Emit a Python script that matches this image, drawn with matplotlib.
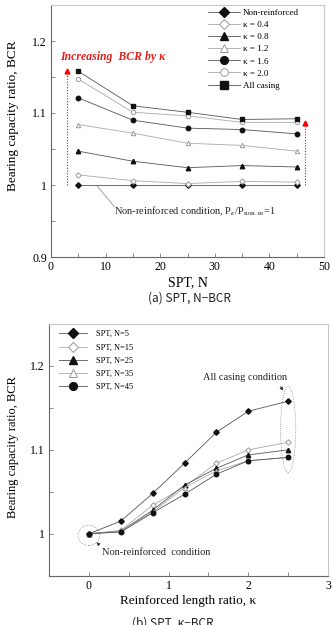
import matplotlib
matplotlib.use("Agg")
import matplotlib.pyplot as plt
import matplotlib.ticker as mticker
from matplotlib.patches import Ellipse
import numpy as np

plt.rcParams.update({
    "font.family": ["Liberation Serif", "DejaVu Serif"],
    "mathtext.fontset": "stix",
    "xtick.direction": "in",
    "ytick.direction": "in",
    "axes.unicode_minus": False,
})

# ── data: panel (a) SPT N vs BCR ────────────────────────────────────────────
SPT_N = [5, 15, 25, 35, 45]
LABELS_A = ["Non-reinforced", "κ = 0.4", "κ = 0.8", "κ = 1.2", "κ = 1.6",
            "κ = 2.0", "All casing"]
BCR_NON = [1.000, 1.000, 1.000, 1.000, 1.000]
BCR_K04 = [1.014, 1.006, 1.002, 1.005, 1.004]
BCR_K08 = [1.047, 1.033, 1.024, 1.027, 1.025]
BCR_K12 = [1.084, 1.072, 1.058, 1.055, 1.047]
BCR_K16 = [1.121, 1.090, 1.079, 1.077, 1.071]
BCR_K20 = [1.147, 1.101, 1.096, 1.087, 1.087]
BCR_ALL = [1.158, 1.110, 1.101, 1.091, 1.092]

# ── data: panel (b) kappa vs BCR ────────────────────────────────────────────
KAPPA = [0, 0.4, 0.8, 1.2, 1.6, 2.0, 2.5]
LABELS_B = ["SPT, N=5", "SPT, N=15", "SPT, N=25", "SPT, N=35", "SPT, N=45"]
BCR_N05 = [1.000, 1.015, 1.048, 1.084, 1.121, 1.146, 1.158]
BCR_N15 = [1.000, 1.004, 1.034, 1.056, 1.084, 1.100, 1.109]
BCR_N25 = [1.000, 1.003, 1.028, 1.058, 1.078, 1.094, 1.100]
BCR_N35 = [1.000, 1.003, 1.026, 1.055, 1.075, 1.087, 1.091]
BCR_N45 = [1.000, 1.002, 1.025, 1.047, 1.071, 1.087, 1.091]

DARK = "#111111"
GREY = "#9a9a9a"
LDARK = "#555555"
LGREY = "#aaaaaa"

# (marker, filled?)
STY_A = [("D", True), ("D", False), ("^", True), ("^", False),
         ("o", True), ("o", False), ("s", True)]
STY_B = [("D", True), ("D", False), ("^", True), ("^", False), ("o", True)]
MS = {"D": 2.8, "^": 3.2, "o": 3.2, "s": 3.4}


def _style(ax):
    for k in ("left", "bottom"):
        ax.spines[k].set_color("#666666")
        ax.spines[k].set_linewidth(0.8)
    for k in ("top", "right"):
        ax.spines[k].set_color("#c8c8c8")
        ax.spines[k].set_linewidth(0.8)
    ax.tick_params(which="both", direction="in", length=3, width=0.6,
                   color="#777777", labelsize=8.5, pad=3)


def _series(ax, x, y, mk, filled, label):
    ms = MS[mk]
    if filled:
        ax.plot(x, y, color=LDARK, lw=0.6, marker=mk, ms=ms, mfc=DARK,
                mec=DARK, label=label, zorder=3)
    else:
        ax.plot(x, y, color=LGREY, lw=0.6, marker=mk, ms=ms, mfc="white",
                mec=GREY, mew=0.7, label=label, zorder=3)


fig = plt.figure(figsize=(3.32, 6.25), dpi=100)

# ── panel (a) ──────────────────────────────────────────────────────────────
ax = fig.add_axes([0.1536, 0.5888, 0.8224, 0.4032])
series_a = [BCR_NON, BCR_K04, BCR_K08, BCR_K12, BCR_K16, BCR_K20, BCR_ALL]
for ys, (mk, f), lab in zip(series_a, STY_A, LABELS_A):
    _series(ax, SPT_N, ys, mk, f, lab)

ax.set_xlim(0, 50)
ax.set_ylim(0.9, 1.25)
ax.xaxis.set_major_locator(mticker.MultipleLocator(10))
ax.xaxis.set_minor_locator(mticker.MultipleLocator(5))
ax.set_yticks([0.9, 1.0, 1.1, 1.2])
ax.set_yticklabels(["0.9", "1", "1.1", "1.2"])
ax.yaxis.set_minor_locator(mticker.MultipleLocator(0.05))
_style(ax)
ax.set_xlabel("SPT, N", fontsize=10, labelpad=2)
ax.set_ylabel("Bearing capacity ratio, BCR", fontsize=9.5)
ax.yaxis.set_label_coords(-0.118, 0.56)

# red dotted arrows
ax.plot([2.9, 2.9], [1.0, 1.156], ls=(0, (1, 1.5)), color="red", lw=0.8)
ax.plot([2.9], [1.158], marker="^", color="red", ms=3.5)
ax.plot([46.6, 46.6], [1.0, 1.084], ls=(0, (1, 1.5)), color="red", lw=0.8)
ax.plot([46.6], [1.086], marker="^", color="red", ms=3.5)
ax.text(1.7, 1.178, "Increasing  BCR by κ", color="#e0201c", fontsize=8.5,
        fontweight="bold", fontstyle="italic", va="center", ha="left")

ax.plot([8.4, 11.6], [0.999, 0.970], color="#999999", lw=0.6)
ax.text(11.6, 0.963,
        r"Non-reinforced condition, P$_{\kappa}$/P$_{\mathrm{non.re}}$=1",
        fontsize=7.5, va="center", ha="left", color="#222222")

ax.legend(loc="upper left", bbox_to_anchor=(0.575, 0.985),
          frameon=False, fontsize=6.5, handlelength=3.6,
          handletextpad=0.3, labelspacing=0.42, borderpad=0,
          borderaxespad=0, markerscale=1.75)

fig.text(0.57, 0.523, "(a) SPT, N−BCR", ha="center", va="center",
         fontsize=8.5, family=["Noto Sans CJK KR", "DejaVu Sans"],
         color="#222222")

# ── panel (b) ──────────────────────────────────────────────────────────────
bx = fig.add_axes([0.1476, 0.0789, 0.8404, 0.4027])
series_b = [BCR_N05, BCR_N15, BCR_N25, BCR_N35, BCR_N45]
for ys, (mk, f), lab in zip(series_b, STY_B, LABELS_B):
    _series(bx, KAPPA, ys, mk, f, lab)

bx.set_xlim(-0.5, 3)
bx.set_ylim(0.95, 1.25)
bx.xaxis.set_major_locator(mticker.MultipleLocator(1))
bx.xaxis.set_minor_locator(mticker.MultipleLocator(0.5))
bx.set_yticks([1.0, 1.1, 1.2])
bx.set_yticklabels(["1", "1.1", "1.2"])
bx.yaxis.set_minor_locator(mticker.MultipleLocator(0.05))
_style(bx)
bx.set_xlabel("Reinforced length ratio, κ", fontsize=9.5, labelpad=2)
bx.set_ylabel("Bearing capacity ratio, BCR", fontsize=9)
bx.yaxis.set_label_coords(-0.108, 0.51)

bx.add_patch(Ellipse((2.5, 1.124), 0.19, 0.103, fill=False, ls=(0, (1, 1.5)),
                     ec="#888888", lw=0.6))
bx.add_patch(Ellipse((0.0, 0.998), 0.27, 0.024, fill=False, ls=(0, (1, 1.5)),
                     ec="#888888", lw=0.6))
bx.text(1.43, 1.186, "All casing condition", fontsize=7.5, va="center",
        ha="left", color="#222222")
bx.annotate("", xy=(2.46, 1.168), xytext=(2.38, 1.178),
            arrowprops=dict(arrowstyle="-|>", color="#333333", lw=0.5,
                            mutation_scale=5))
bx.text(0.16, 0.978, "Non-reinforced  condition", fontsize=7.5, va="center",
        ha="left", color="#222222")
bx.annotate("", xy=(0.07, 0.992), xytext=(0.14, 0.986),
            arrowprops=dict(arrowstyle="-|>", color="#333333", lw=0.5,
                            mutation_scale=5))

bx.legend(loc="upper left", bbox_to_anchor=(0.035, 0.975), frameon=False,
          fontsize=6, handlelength=3.4, handletextpad=1.1,
          labelspacing=0.62, borderpad=0, borderaxespad=0, markerscale=1.75)

fig.text(0.52, 0.0128, "(b) SPT, κ−BCR", ha="center", va="top",
         fontsize=8.5, family=["Noto Sans CJK KR", "DejaVu Sans"],
         color="#222222")

fig.savefig("out.png", dpi=100)
